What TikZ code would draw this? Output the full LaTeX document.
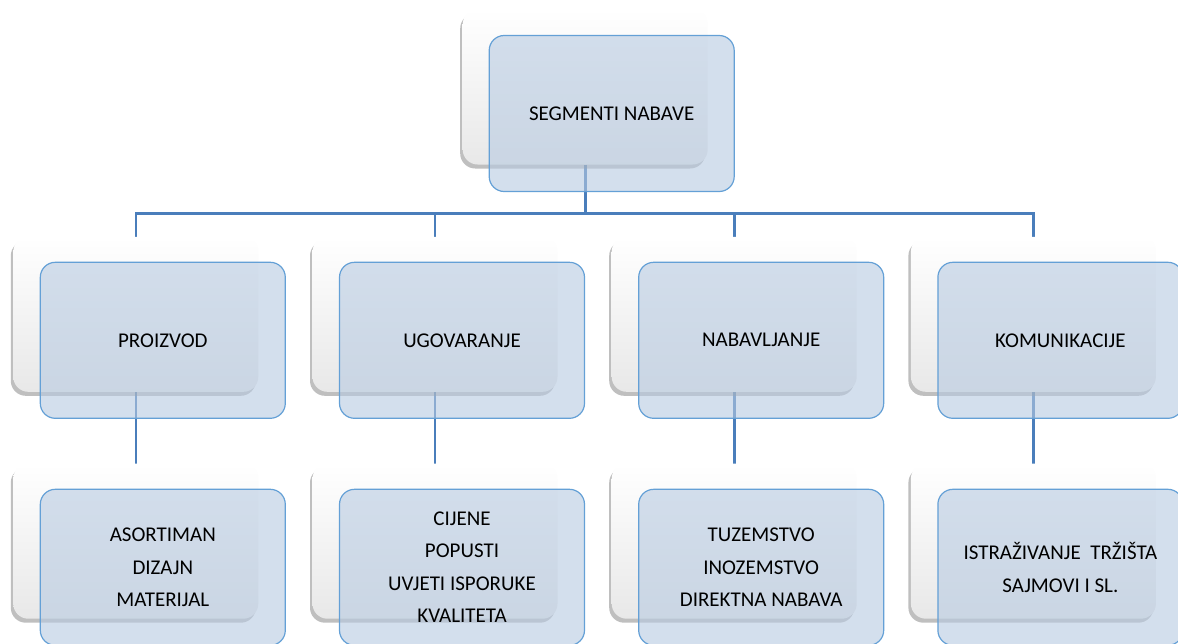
\documentclass[tikz,border=0pt]{standalone}
\usepackage{fontspec}
\setmainfont{Carlito}
\usetikzlibrary{shadows,backgrounds,calc}
\definecolor{boxblue}{RGB}{183,202,225}
\definecolor{edgeblue}{RGB}{100,160,214}
\definecolor{linkblue}{RGB}{74,126,187}
\tikzset{
 back/.style={rounded corners=15pt, minimum width=245pt, minimum height=155pt, inner sep=0pt,
   top color=white, middle color=white, bottom color=black!9,
   drop shadow={shadow xshift=-2.5pt, shadow yshift=-4pt, opacity=0.45, fill=black!55}},
 front/.style={rounded corners=15pt, minimum width=245pt, minimum height=156pt, inner sep=0pt,
   draw=edgeblue, line width=1.2pt, fill=boxblue, fill opacity=0.6, text opacity=1,
   align=center, font=\fontsize{21}{32.5}\selectfont},
 link/.style={draw=linkblue, line width=2.6pt}
}
\begin{document}
\begin{tikzpicture}[x=1pt,y=-1pt]
\clip (0,0) rectangle (1178,643);
% top
\node[back] (tw) at (585.2,87) {};
\node[front] (tb) at (611.7,113.5) {SEGMENTI NABAVE};
% row 2 white boxes
\node[back] (pw) at (135.8,314.3) {};
\node[back] (uw) at (435.0,314.3) {};
\node[back] (nw) at (734.2,314.3) {};
\node[back] (kw) at (1033.4,314.3) {};
\node[front] (pb) at (162.8,340.3) {PROIZVOD};
\node[front] (ub) at (462.0,340.3) {UGOVARANJE};
\node[front] (nb) at (761.2,340.3) {NABAVLJANJE};
\node[front] (kb) at (1060.4,340.3) {KOMUNIKACIJE};
% row 3
\node[back] (pw2) at (135.8,541.2) {};
\node[back] (uw2) at (435.0,541.2) {};
\node[back] (nw2) at (734.2,541.2) {};
\node[back] (kw2) at (1033.4,541.2) {};
\node[front] (pb2) at (162.8,567.3) {ASORTIMAN\\DIZAJN\\MATERIJAL};
\node[front] (ub2) at (462.0,567.3) {CIJENE\\POPUSTI\\UVJETI ISPORUKE\\KVALITETA};
\node[front] (nb2) at (761.2,567.3) {TUZEMSTVO\\INOZEMSTVO\\DIREKTNA NABAVA};
\node[front] (kb2) at (1060.4,567.3) {ISTRAŽIVANJE\ \ TRŽIŠTA\\SAJMOVI I SL.};
\coordinate (bus) at (0,213.5);
\begin{scope}[on background layer]
\fill[white] (0,0) rectangle (1178,643);
\foreach \c in {pw,uw,nw,kw}{
  \draw[link] (tw.south) -- (tw.south |- bus) -| (\c.north);
  \draw[link] (\c.south) -- (\c2.north);
}
\end{scope}
\end{tikzpicture}
\end{document}
